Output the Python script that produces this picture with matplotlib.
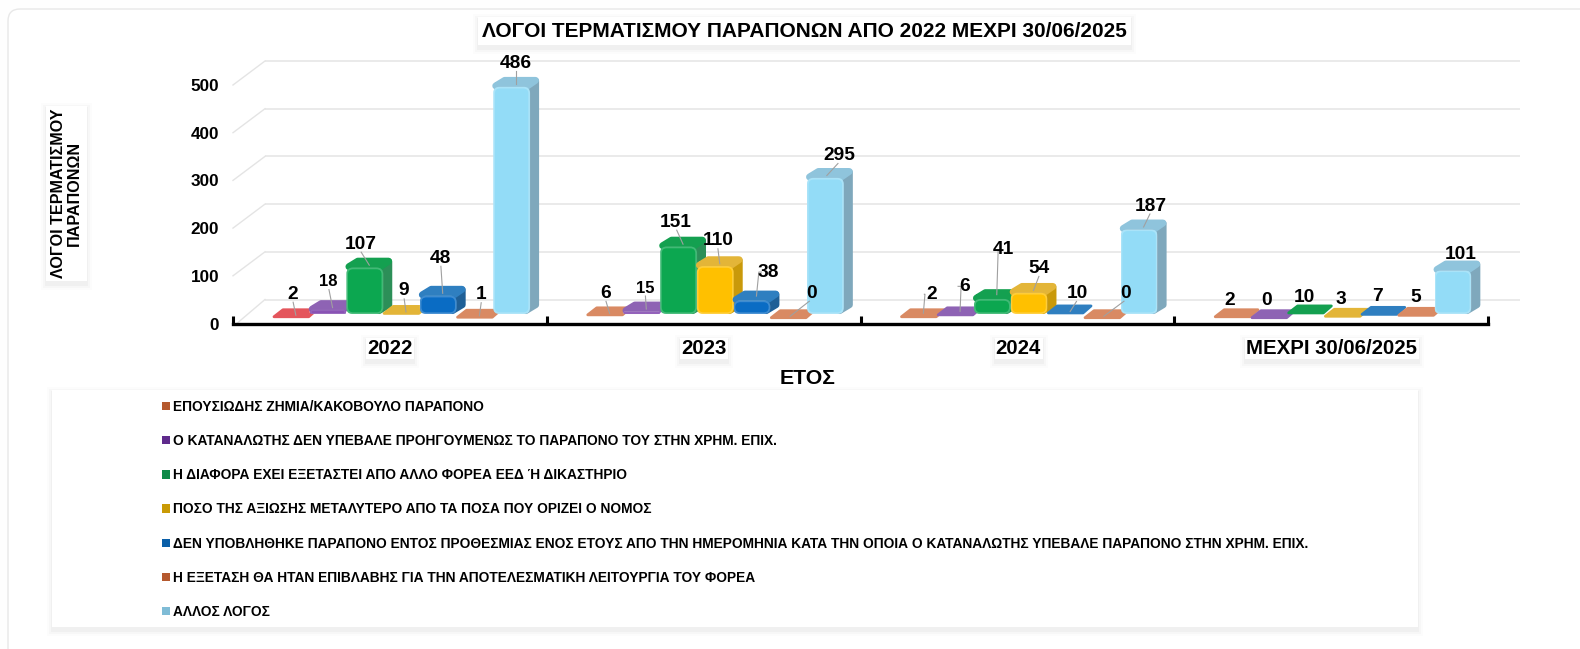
import matplotlib
matplotlib.use('Agg')
import matplotlib.pyplot as plt
import matplotlib.transforms as mtrans
from matplotlib.patches import Rectangle, FancyBboxPatch, Polygon
from matplotlib.lines import Line2D

W, H = 1580, 649
plt.rcParams['font.family'] = ['Liberation Sans', 'DejaVu Sans']
plt.rcParams['font.weight'] = 'bold'

groups = ['2022', '2023', '2024', 'ΜΕΧΡΙ 30/06/2025']
labels = ['ΕΠΟΥΣΙΩΔΗΣ ΖΗΜΙΑ/ΚΑΚΟΒΟΥΛΟ ΠΑΡΑΠΟΝΟ',
          'Ο ΚΑΤΑΝΑΛΩΤΗΣ ΔΕΝ ΥΠΕΒΑΛΕ ΠΡΟΗΓΟΥΜΕΝΩΣ ΤΟ ΠΑΡΑΠΟΝΟ ΤΟΥ ΣΤΗΝ ΧΡΗΜ. ΕΠΙΧ.',
          'Η ΔΙΑΦΟΡΑ ΕΧΕΙ ΕΞΕΤΑΣΤΕΙ ΑΠΟ ΑΛΛΟ ΦΟΡΕΑ ΕΕΔ Ή ΔΙΚΑΣΤΗΡΙΟ',
          'ΠΟΣΟ ΤΗΣ ΑΞΙΩΣΗΣ ΜΕΤΑΛΥΤΕΡΟ ΑΠΟ ΤΑ ΠΟΣΑ ΠΟΥ ΟΡΙΖΕΙ Ο ΝΟΜΟΣ',
          'ΔΕΝ ΥΠΟΒΛΗΘΗΚΕ ΠΑΡΑΠΟΝΟ ΕΝΤΟΣ ΠΡΟΘΕΣΜΙΑΣ ΕΝΟΣ ΕΤΟΥΣ ΑΠΟ ΤΗΝ ΗΜΕΡΟΜΗΝΙΑ ΚΑΤΑ ΤΗΝ ΟΠΟΙΑ Ο ΚΑΤΑΝΑΛΩΤΗΣ ΥΠΕΒΑΛΕ ΠΑΡΑΠΟΝΟ ΣΤΗΝ ΧΡΗΜ. ΕΠΙΧ.',
          'Η ΕΞΕΤΑΣΗ ΘΑ ΗΤΑΝ ΕΠΙΒΛΑΒΗΣ ΓΙΑ ΤΗΝ ΑΠΟΤΕΛΕΣΜΑΤΙΚΗ ΛΕΙΤΟΥΡΓΙΑ ΤΟΥ ΦΟΡΕΑ',
          'ΑΛΛΟΣ ΛΟΓΟΣ']

trivial = [2, 6, 2, 2]
no_prior = [18, 15, 6, 0]
other_body = [107, 151, 41, 10]
low_amount = [9, 110, 54, 3]
late = [48, 38, 10, 7]
harmful = [1, 0, 0, 5]
other = [486, 295, 187, 101]
series = [trivial, no_prior, other_body, low_amount, late, harmful, other]

# front, side, top colours
colors = [('#d98a63', '#b56a45', '#d98a63'),
          ('#7535a8', '#5a2885', '#8e63b4'),
          ('#0ca750', '#2c8f58', '#14a050'),
          ('#ffc000', '#c9990a', '#e3b538'),
          ('#0a6cc4', '#1f5f96', '#2f7fc0'),
          ('#d98a63', '#b56a45', '#d98a63'),
          ('#93dcf7', '#7fa8bc', '#8fc4dc')]
first_bar_color = '#e4555c'

# label shift from the top of each bar, in pixels, one row per year
label_shift = [[(-3, 19), (-4, 24), (-9, 19), (-2, 19), (-2, 33), (2, 19), (0, 19)],
               [(-4, 18), (-1, 19), (-7, 20), (-2, 21), (12, 24), (18, 21), (9, 18)],
               [(8, 19), (5, 25), (7, 45), (6, 20), (7, 16), (19, 21), (7, 19)],
               [(-7, 13), (-7, 14), (-6, 12), (-6, 13), (-6, 14), (-5, 14), (3, 12)]]
elbows = [(1, 4), (2, 0), (2, 1), (2, 2)]

pix = mtrans.IdentityTransform()


def fy(y):
    return H - y


def shadow_box(x0, y0, x1, y1, z=1):
    for pad, a in [(6, .025), (4, .035), (2, .05)]:
        fig.add_artist(Rectangle((x0 - pad + 1, fy(y1 + pad + 3)), x1 - x0 + 2 * pad - 2, y1 - y0 + 2 * pad,
                                 transform=pix, fc='#808080', ec='none', alpha=a, zorder=z))
    fig.add_artist(Rectangle((x0, fy(y1)), x1 - x0, y1 - y0, transform=pix, fc='white', ec='none', zorder=z))


fig = plt.figure(figsize=(W / 100, H / 100), dpi=100, facecolor='#fefefe')
# page card runs off the right and bottom of the picture
fig.add_artist(FancyBboxPatch((8, fy(670)), 1620, 661, boxstyle='round,pad=0,rounding_size=12', transform=pix,
                              fc='white', ec='#e8e8e8', lw=1, zorder=0))

ax = fig.add_axes([233 / W, (H - 323.5) / H, 1255 / W, 238.5 / H], facecolor='none', zorder=3)
ax.set_xlim(0, 4)
ax.set_ylim(0, 500)
for s in ['top', 'left', 'right']:
    ax.spines[s].set_visible(False)
ax.spines['bottom'].set_linewidth(2.4)

# back wall
ticks = [0, 100, 200, 300, 400, 500]
back = mtrans.offset_copy(ax.transData, fig=fig, x=32, y=24, units='dots')
ax.hlines(ticks, 0, 4, transform=back, color='#e4e4e4', lw=1.1, clip_on=False, zorder=0)
for t in ticks:
    x0, y0 = ax.transData.transform((0.012 if t == 0 else 0, t))
    x1, y1 = back.transform((0, t))
    ax.add_line(Line2D([x0, x1], [y0, y1], transform=pix, color='#e4e4e4', lw=1, clip_on=False, zorder=0))

ax.set_yticks(ticks)
ax.tick_params(axis='y', length=0, pad=10, labelsize=12.3)
ax.set_xticks([0, 1, 2, 3, 4])
ax.set_xticklabels([])
ax.tick_params(axis='x', which='major', direction='in', length=6, width=2.2)
ax.set_xticks([0.5, 1.5, 2.5, 3.5], minor=True)
ax.set_xticklabels(groups, minor=True, fontsize=14.7)
ax.tick_params(axis='x', which='minor', length=0, pad=11.5)

# bars
start = 0.1275
bw = 0.117
dep = 9
plane = mtrans.offset_copy(ax.transData, fig=fig, x=0, y=4.8, units='dots')
floor = 10
z = 3
for g in range(4):
    for i in range(7):
        v = series[i][g]
        front, side, top = colors[i]
        if g == 0 and i == 0:
            front = top = first_bar_color
        x = g + start + i * bw
        (xl, yt) = plane.transform((x, v))
        (xr, yb) = plane.transform((x + bw, floor))
        flat = v <= floor
        if flat:
            yb = yt
        elif yt - yb > 8:
            ax.add_patch(Polygon([(xr - 4, yb + 3), (xr - 4, yt - 3), (xr + dep - 3, yt + dep - 3), (xr + dep - 3, yb + dep)],
                                 transform=pix, fc=side, ec=side, lw=4.5, joinstyle='round', clip_on=False, zorder=z))
        r = 1 if flat else 2.5
        ax.add_patch(Polygon([(xl + r, yt + 1), (xr - r, yt + 1), (xr + dep - r - 1, yt + dep - r), (xl + dep + r, yt + dep - r)],
                             transform=pix, fc=top, ec=top, lw=2 * r, joinstyle='round', clip_on=False, zorder=z + .1))
        if not flat:
            b = ax.bar(x, v - floor, bw, bottom=floor, align='edge', transform=plane, color=front, zorder=z + .2)[0]
            rnd = min(6, (yt - yb) / 2)
            style = 'round,pad=0,rounding_size=%.1f' % rnd
            b.set_clip_path(FancyBboxPatch((xl, yb), xr - xl, yt - yb, boxstyle=style, transform=pix))
            ax.add_patch(FancyBboxPatch((xl + .7, yb + .7), xr - xl - 1.4, yt - yb - 1.4, boxstyle=style, transform=pix,
                                        fc='none', ec='white', alpha=.22, lw=1.3, clip_on=False, zorder=z + .3))
        z += .5
        # value label with its leader line
        sx, sy = label_shift[g][i]
        tx = (xl + xr) / 2 + dep / 2
        ty = yt + dep / 2
        small = i == 1 and g < 2
        ax.text(tx + sx, ty + sy, str(v), transform=pix, ha='center', va='center', fontsize=12 if small else 13.8,
                color='black', zorder=20, clip_on=False)
        if (g, i) in elbows:
            ax.add_line(Line2D([tx, tx + sx * .2, tx + sx - 7], [ty, ty + sy, ty + sy], transform=pix, color='#a0a0a0', lw=.8,
                               clip_on=False, zorder=19))
        elif g < 3:
            ax.add_line(Line2D([tx - 3 if sx > 8 else tx, tx + sx * .9], [ty - 2, ty + sy - 8], transform=pix, color='#a0a0a0', lw=.8,
                               clip_on=False, zorder=19))

# boxes behind titles, drawn on the figure under the axes
shadow_box(478, 17, 1131, 45)
fig.text(804 / W, fy(31.5) / H, 'ΛΟΓΟΙ ΤΕΡΜΑΤΙΣΜΟΥ ΠΑΡΑΠΟΝΩΝ ΑΠΟ 2022 ΜΕΧΡΙ 30/06/2025', ha='center', va='center',
         fontsize=15, zorder=5)
shadow_box(46, 106, 87, 281)
fig.text(66.5 / W, fy(193.5) / H, 'ΛΟΓΟΙ ΤΕΡΜΑΤΙΣΜΟΥ\nΠΑΡΑΠΟΝΩΝ', rotation=90, ha='center', va='center',
         fontsize=11.6, linespacing=1.1, zorder=5)
for x0, x1 in [(366, 414), (680, 728), (995, 1043), (1245, 1419)]:
    shadow_box(x0, 338, x1, 359)
fig.text(808 / W, fy(378.5) / H, 'ΕΤΟΣ', ha='center', va='center', fontsize=15.3, zorder=5)

# legend
shadow_box(52, 390, 1418, 627)
handles = [Rectangle((0, 0), 1, 1, fc=c, ec='none') for c in ['#b5592e', '#5f2a8c', '#0e8a48', '#c99a05', '#0a5fa8', '#b5592e', '#7fbcd6']]
fig.legend(handles, labels, loc='upper left', bbox_to_anchor=(162 / W, fy(400) / H), frameon=False, fontsize=9.87,
           labelspacing=1.47, handlelength=.55, handleheight=.55, handletextpad=.22, borderpad=0, borderaxespad=0)

fig.savefig('out.png', dpi=100, facecolor=fig.get_facecolor())
